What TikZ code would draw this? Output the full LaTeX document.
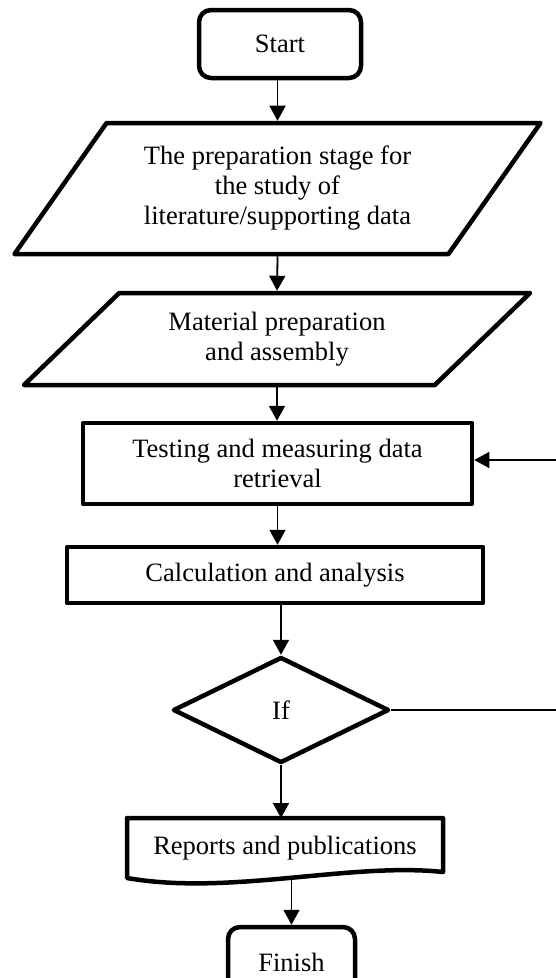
\documentclass[tikz,border=0pt]{standalone}
\usepackage{fontspec}
\setmainfont{Liberation Serif}
\usetikzlibrary{shapes.geometric,arrows.meta}

\begin{document}
\begin{tikzpicture}[x=1pt, y=-1pt,
  termnode/.style={rectangle, rounded corners=12pt, draw, line width=4.5pt, font=\fontsize{26.5}{30}\selectfont},
  ionode/.style={trapezium, trapezium stretches=true, draw, line width=4.5pt, line join=round, align=center, font=\fontsize{26.5}{30}\selectfont},
  boxnode/.style={rectangle, draw, line width=4.5pt, line join=round, align=center, font=\fontsize{26.5}{30}\selectfont},
  ifnode/.style={diamond, draw, line width=4.5pt, line join=round, font=\fontsize{26.5}{30}\selectfont},
  flow/.style={line width=1.8pt, -{Triangle[width=16pt,length=15pt]}},
  back/.style={line width=1.3pt}]

\useasboundingbox (0,0) rectangle (556,978);

\node[termnode, minimum width=162pt, minimum height=68pt] at (280, 44) (start) {Start};
\node[ionode, trapezium left angle=51, trapezium right angle=129, minimum width=528pt, minimum height=131pt] at (277.5, 188.5) (prep) {The preparation stage for\\the study of\\literature/supporting data};
\draw[flow] (start.south -| prep.north) -- (prep.north);
\node[ionode, trapezium left angle=42, trapezium right angle=138, minimum width=508pt, minimum height=92pt] at (277, 339) (mat) {Material preparation\\and assembly};
\draw[flow] (prep.south) -- (mat.north);
\node[boxnode, minimum width=389pt, minimum height=81pt] at (277.5, 463.5) (test) {Testing and measuring data\\retrieval};
\draw[flow] (mat.south) -- (mat.south |- test.north);
\node[boxnode, minimum width=416pt, minimum height=56pt] at (275, 575) (calc) {Calculation and analysis};
\draw[flow] (test.south) -- (test.south |- calc.north);
\node[ifnode, minimum width=216pt, minimum height=106pt] at (281, 710) (ifn) {If};
\draw[flow] (ifn.north |- calc.south) -- (ifn.north);
\coordinate (rb) at (556, 711);
\draw[back] (ifn.east) -- (ifn.east -| rb);
\coordinate (rt) at (556, 460);
\draw[back, -{Triangle[width=16pt,length=15pt]}] (rt) -- (rt -| test.east);
\node[rectangle, outer sep=0pt, minimum width=316pt, minimum height=60pt, font=\fontsize{26.5}{30}\selectfont] at (285, 848) (rep) {Reports and publications};
\draw[line width=4.5pt, line join=round] (rep.south west) -- (rep.north west) -- (rep.north east) -- ([yshift=6pt]rep.south east) .. controls (350, 862) and (230, 896) .. (rep.south west) -- cycle;
\draw[flow] (ifn.south) -- (ifn.south |- rep.north);
\node[termnode, minimum width=127pt, minimum height=70pt] at (291.5, 962) (fin) {Finish};
\draw[flow] (fin.north |- rep.south) -- (fin.north);

\end{tikzpicture}
\end{document}
